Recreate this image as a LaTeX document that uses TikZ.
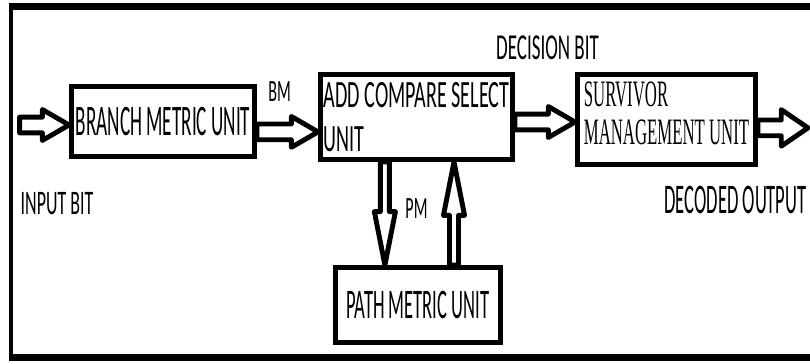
\documentclass[tikz,border=0pt]{standalone}
\usepackage{fontspec}
\usepackage{tikz}
\usetikzlibrary{calc}
\newfontfamily\narrowsans[FakeStretch=0.52]{Carlito}
\newfontfamily\tallsans[FakeStretch=0.44]{Carlito}
\newfontfamily\narrowserif[FakeStretch=0.45]{Liberation Serif}

% outlined block arrow: #1 half shaft, #2 half head, #3 head length
\tikzset{hollow/.style n args={3}{draw=black, line width=3.5pt, line join=round,
  to path={($(\tikztostart)!#1!90:(\tikztotarget)$)
    -- ($($(\tikztotarget)!#3!(\tikztostart)$)!#1!90:(\tikztotarget)$)
    -- ($($(\tikztotarget)!#3!(\tikztostart)$)!#2!90:(\tikztotarget)$)
    -- (\tikztotarget)
    -- ($($(\tikztotarget)!#3!(\tikztostart)$)!#2!-90:(\tikztotarget)$)
    -- ($($(\tikztotarget)!#3!(\tikztostart)$)!#1!-90:(\tikztotarget)$)
    -- ($(\tikztostart)!#1!-90:(\tikztotarget)$) -- cycle}}}

\tikzstyle{unit} = [rectangle, 
draw=black, 
fill=white, 
line width=3.5pt, 
inner sep=0pt,
font=\tallsans\fontsize{31}{30}\selectfont,
path picture={
  \fill (path picture bounding box.north west) rectangle ([yshift=-4.5pt]path picture bounding box.north east);
  \fill (path picture bounding box.south west) rectangle ([yshift=4.5pt]path picture bounding box.south east);}]
\tikzstyle{tag} = [inner sep=0pt, 
font=\narrowsans\fontsize{26}{30}\selectfont]
\tikzstyle{arrow} = [hollow={5.6pt}{11pt}{19pt}]
\tikzstyle{pmarrow} = [hollow={3.2pt}{7.5pt}{38pt}]

\begin{document}
\begin{tikzpicture}[node distance=2cm]
\useasboundingbox (0,0) rectangle (20.25,9.1);

% frame, open on the right
\draw [line width=0.175cm] (0.22,8.9375) -- (20.4,8.9375);
\draw [line width=0.175cm] (0.22,0.15) -- (20.4,0.15);
\draw [line width=0.11cm] (0.275,8.9375) -- (0.275,0.15);

\node (bmu) [unit, minimum width=4.575cm, minimum height=1.75cm] at (4.075,6.0625) {BRANCH METRIC UNIT};

\node (acs) [unit, right of=bmu, xshift=4.3375cm, yshift=0.1125cm, minimum width=4.8cm, minimum height=2.125cm, 
font=\narrowsans\fontsize{27.5}{30}\selectfont] {\shortstack[l]{ADD COMPARE SELECT\\[11pt]UNIT}};

\node (smu) [unit, right of=acs, xshift=4.25cm, yshift=-0.0625cm, minimum width=4.45cm, minimum height=2.25cm, 
font=\narrowserif\fontsize{26.5}{26.3}\selectfont] {\shortstack[l]{SURVIVOR\\[6pt]MANAGEMENT UNIT\rule[-9pt]{0pt}{9pt}}};

\node (pmu) [unit, below of=acs, xshift=0.0375cm, yshift=-2.7cm, minimum width=4.125cm, minimum height=1.875cm, 
font=\tallsans\fontsize{30}{30}\selectfont] {PATH METRIC UNIT};

\node (bm) [tag, right of=bmu, xshift=0.9125cm, yshift=0.75cm, font=\narrowsans\fontsize{22}{26}\selectfont] {BM};
\node (dbit) [tag, right of=acs, xshift=1.275cm, yshift=1.725cm] {DECISION BIT};
\node (ibit) [tag, below of=bmu, xshift=-2.65cm, yshift=-0.0625cm, font=\narrowsans\fontsize{24.5}{26}\selectfont] {INPUT BIT};
\node (pm) [tag, below of=acs, yshift=-0.2875cm, font=\narrowsans\fontsize{22}{26}\selectfont] {PM};
\node (dout) [tag, below of=smu, xshift=1.725cm, yshift=-0.0125cm, font=\tallsans\fontsize{30}{30}\selectfont] {DECODED OUTPUT};

\coordinate (in) at (0.49,5.975);
\coordinate (bmout) at ([yshift=-0.26cm]bmu.east);
\coordinate (acsout) at ([yshift=-0.125cm]acs.east);
\coordinate (smuout) at ([yshift=-0.21cm]smu.east);
\coordinate (out) at ([xshift=1.25cm]smuout);
\coordinate (pmout) at ([xshift=-0.79cm]acs.south);
\coordinate (pmin) at ([xshift=0.9cm]pmu.north);

\draw [arrow] (in) to (in -| bmu.west);
\draw [arrow] (bmout) to (bmout -| acs.west);
\draw [arrow] (acsout) to (acsout -| smu.west);
\draw [hollow={5.6pt}{13pt}{19pt}] (smuout) to (out);
\draw [pmarrow] (pmout) to (pmout |- pmu.north);
\draw [pmarrow] (pmin) to (pmin |- acs.south);

\end{tikzpicture}
\end{document}
